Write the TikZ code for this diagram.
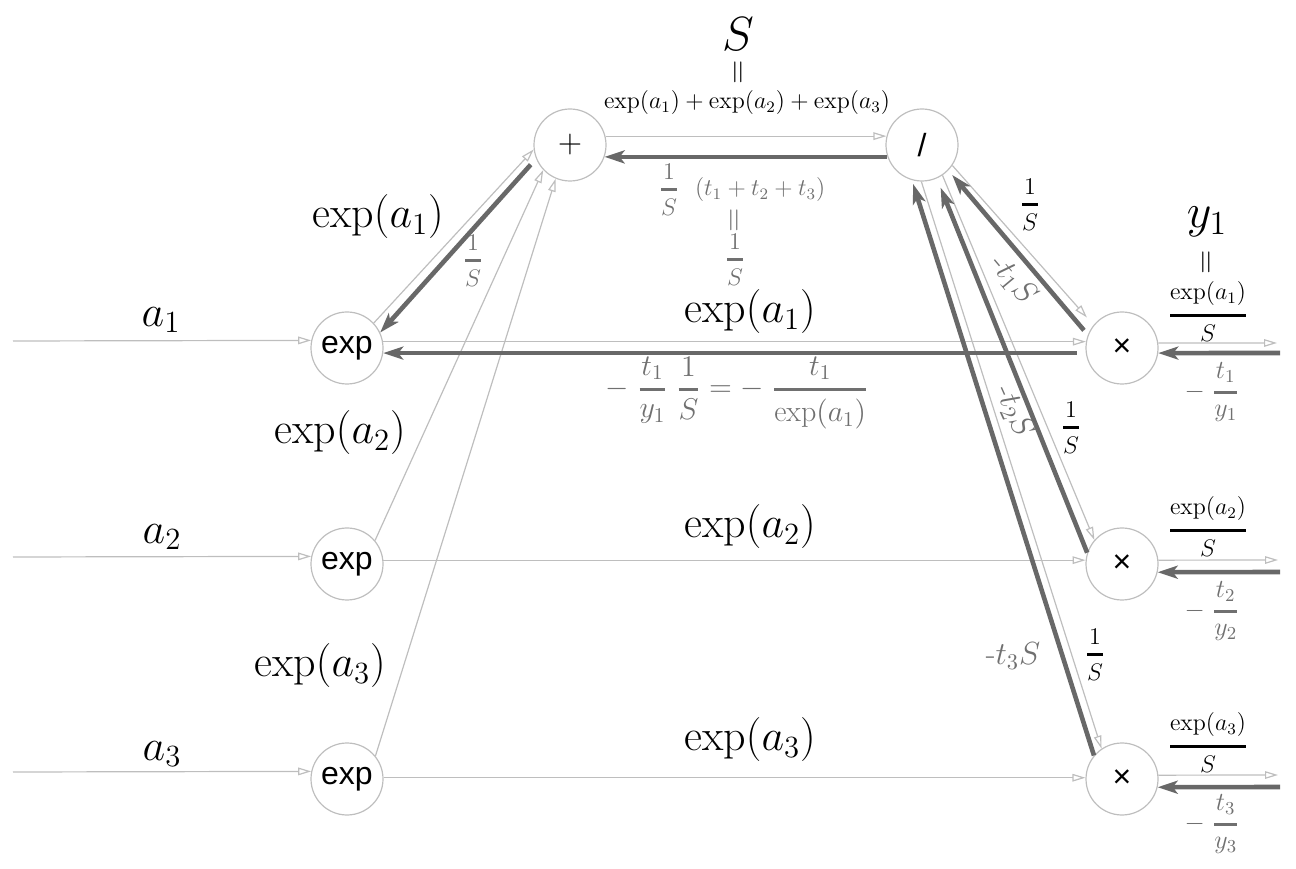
\RequirePackage{fix-cm}
\documentclass[tikz,border=0pt]{standalone}
\usepackage{amsmath}
\usepackage{fontspec}
\newfontfamily\opfont{Liberation Sans}
\usepackage{tikz}
\usetikzlibrary{arrows.meta}

\definecolor{lightline}{RGB}{190,190,190}
\definecolor{darkline}{RGB}{104,104,104}
\definecolor{graytext}{RGB}{112,112,112}
\newcommand{\thfrac}[2]{\genfrac{}{}{1.4pt}{0}{#1}{#2}}

\begin{document}
\begin{tikzpicture}[x=0.5pt,y=0.5pt,
    op/.style={circle,draw=lightline,line width=0.6pt,minimum size=36pt,inner sep=0pt,
      font=\opfont\fontsize{16}{18}\selectfont},
    fwd/.style={color=lightline,line width=0.6pt,-{Triangle[open,length=6.5pt,width=3.8pt]}},
    bwd/.style={color=darkline,line width=2.3pt,-{Stealth[length=10pt,width=6.5pt,inset=2.5pt]}},
    var/.style={font=\fontsize{24}{28}\selectfont},
    big/.style={font=\fontsize{22}{26}\selectfont},
    lbl/.style={font=\fontsize{12}{14}\selectfont},
    glbl/.style={lbl,text=graytext},
    gvar/.style={text=graytext,font=\fontsize{16}{19}\selectfont},
    eqv/.style={font=\fontsize{16}{18}\selectfont,rotate=90}]
  \useasboundingbox (0,0) rectangle (1296,868);
  % operation nodes
  \node[op] (e1) at (347,520) {exp};
  \node[op] (e2) at (347,304) {exp};
  \node[op] (e3) at (347,89) {exp};
  \node[op] (plus) at (570,723) {$+$};
  \node[op] (div) at (922,723) {/};
  \node[op] (m1) at (1122,520) {×};
  \node[op] (m2) at (1122,304) {×};
  \node[op] (m3) at (1122,89) {×};
  % free ends
  \coordinate (a1in) at (13,527);
  \coordinate (a2in) at (13,311);
  \coordinate (a3in) at (13,96);
  \coordinate (y1out) at (1277,525);
  \coordinate (y1in) at (1280,515);
  \coordinate (y2out) at (1278,308);
  \coordinate (y2in) at (1280,296);
  \coordinate (y3out) at (1278,93);
  \coordinate (y3in) at (1280,81);
  % forward pass
  \path[fwd]
    (a1in) edge (e1.168)
    (a2in) edge (e2.168)
    (a3in) edge (e3.168)
    (e1.43) edge (plus.187)
    (e2.40) edge (plus.223)
    (e3.39) edge (plus.247)
    (plus.14) edge (div.166)
    (e1.10) edge (m1.170)
    (e2.6) edge (m2.174)
    (e3.2) edge (m3.178)
    (div.-34) edge[shorten >=5pt] (m1.141)
    (div.-56) edge (m2.139)
    (div.-91) edge (m3.124)
    (m1.8) edge (y1out)
    (m2.6) edge (y2out)
    (m3.6) edge (y3out);
  % backward pass
  \path[bwd]
    (div.199) edge (plus.341)
    (plus.202) edge[shorten <=4pt] (e1.25)
    (m1.188) edge[shorten <=4.5pt] (e1.-8)
    (m1.159) edge[shorten <=3pt,shorten >=3pt] (div.-44)
    (m2.162) edge[shorten >=5pt] (div.-66)
    (m3.140) edge[shorten >=2pt] (div.-106)
    (y1in) edge (m1.-8)
    (y2in) edge (m2.-13)
    (y3in) edge (m3.-13);
  % top labels
  \node[var] (S) at (738,834) {$S$};
  \node[eqv] (Seq) at (740,796) {$=$};
  \node[lbl] (Ssum) at (747,765) {$\exp(a_1)+\exp(a_2)+\exp(a_3)$};
  \node[glbl] (Sgrad) at (742,678) {$\thfrac{1}{S}\ \ (t_1+t_2+t_3)$};
  \node[eqv,text=graytext] (Sgradeq) at (736,648) {$=$};
  \node[glbl] (Sgradval) at (735,608) {$\thfrac{1}{S}$};
  \node[glbl] (e1grad) at (473,607) {$\thfrac{1}{S}$};
  % inputs and exp outputs
  \node[big] (a1) at (161,548) {$a_1$};
  \node[big] (a2) at (162,331) {$a_2$};
  \node[big] (a3) at (162,114) {$a_3$};
  \node[big] (x1up) at (378,651) {$\exp(a_1)$};
  \node[big] (x2up) at (340,435) {$\exp(a_2)$};
  \node[big] (x3up) at (320,202) {$\exp(a_3)$};
  \node[big] (x1) at (750,556) {$\exp(a_1)$};
  \node[big] (x2) at (750,341) {$\exp(a_2)$};
  \node[big] (x3) at (750,128) {$\exp(a_3)$};
  \node[glbl,font=\fontsize{15}{18}\selectfont] (x1grad) at (737,475)
    {$-\;\thfrac{t_1}{y_1}\;\thfrac{1}{S} = -\;\thfrac{t_1}{\exp(a_1)}$};
  % division outputs
  \node[lbl] (d1) at (1030,663) {$\thfrac{1}{S}$};
  \node[lbl] (d2) at (1071,440) {$\thfrac{1}{S}$};
  \node[lbl] (d3) at (1095,213) {$\thfrac{1}{S}$};
  \node[gvar,rotate=-50] (g1) at (1013,588) {${\text{-}}t_1S$};
  \node[gvar,rotate=-66] (g2) at (1014,456) {${\text{-}}t_2S$};
  \node[gvar] (g3) at (1013,212) {${\text{-}}t_3S$};
  % outputs
  \node[var] (y1) at (1207,646) {$y_1$};
  \node[eqv] (y1eq) at (1208,606) {$=$};
  \node[lbl] (y1val) at (1208,556) {$\thfrac{\exp(a_1)}{S}$};
  \node[glbl,font=\fontsize{13}{15}\selectfont] (y1grad) at (1212,476) {$-\;\thfrac{t_1}{y_1}$};
  \node[lbl] (y2val) at (1208,341) {$\thfrac{\exp(a_2)}{S}$};
  \node[glbl,font=\fontsize{13}{15}\selectfont] (y2grad) at (1212,257) {$-\;\thfrac{t_2}{y_2}$};
  \node[lbl] (y3val) at (1208,125) {$\thfrac{\exp(a_3)}{S}$};
  \node[glbl,font=\fontsize{13}{15}\selectfont] (y3grad) at (1212,44) {$-\;\thfrac{t_3}{y_3}$};
\end{tikzpicture}
\end{document}
